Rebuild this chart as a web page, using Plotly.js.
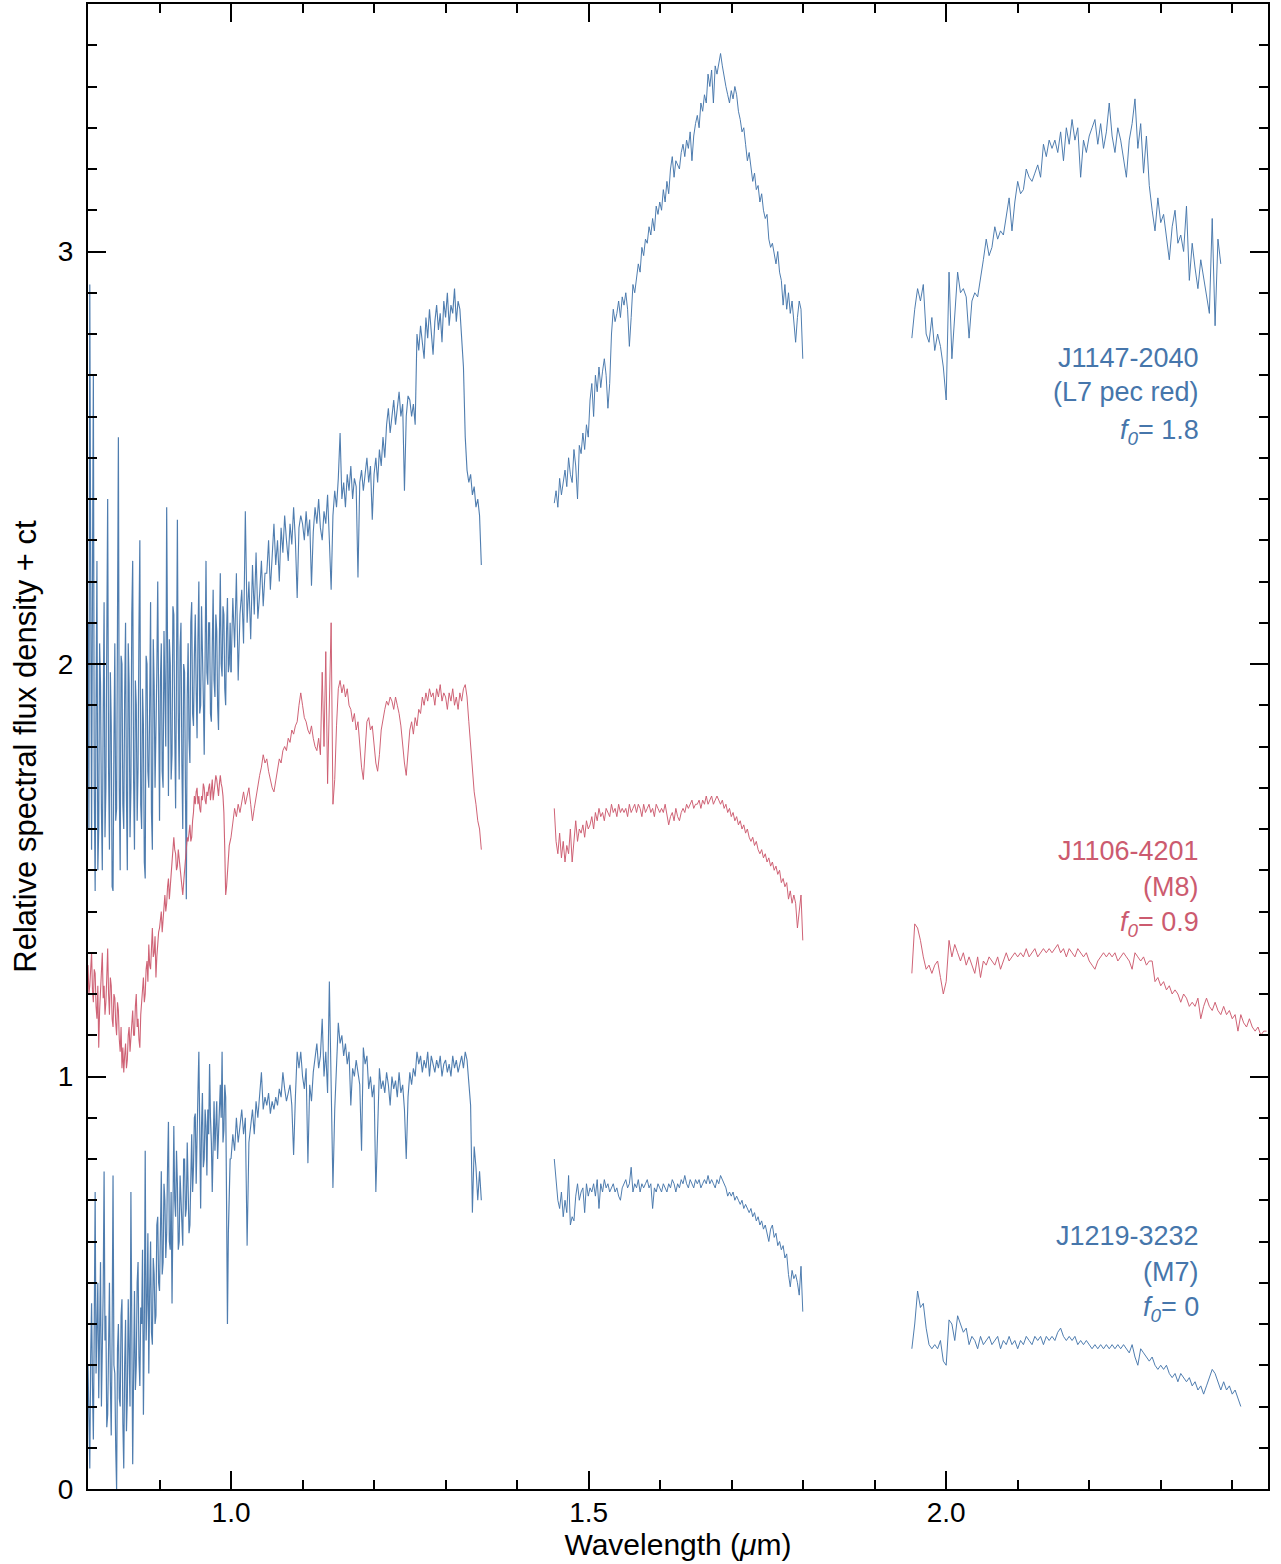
<!DOCTYPE html>
<html>
<head>
<meta charset="utf-8">
<script src="https://cdn.plot.ly/plotly-3.0.1.min.js"></script>
<style>
  html, body { margin: 0; padding: 0; background: #ffffff; }
  #chart { width: 1281px; height: 1564px; }
</style>
</head>
<body>
<div id="chart"></div>
<script>
// Wavelength sampling (micron): start and step of each spectral piece
const segAStart = 0.80,  segAStep = 0.00125;  // 0.80 - 1.00 (finer sampling)
const segBStart = 1.00,  segBStep = 0.0025;   // 1.00 - 1.35
const seg2Start = 1.452, seg2Step = 0.0025;   // 1.45 - 1.80
const seg3Start = 1.952, seg3Step = 0.004;    // 1.95 - 2.45

// J1147-2040 (L7 pec red), offset f0 = 1.8
const j1147_segA = [
  2.10, 1.60, 2.92, 2.00, 1.55, 2.20, 2.70, 1.70, 1.45, 1.90, 2.25, 1.50, 1.60, 2.05, 1.95, 1.65, 1.50, 1.88, 2.15, 1.58,
  1.70, 2.05, 2.40, 1.75, 1.55, 1.98, 1.85, 1.46, 1.45, 1.80, 2.05, 1.62, 1.65, 2.10, 2.55, 1.70, 1.50, 2.02, 2.00, 1.66,
  1.60, 1.92, 2.10, 1.68, 1.50, 2.05, 1.95, 1.58, 1.70, 2.12, 2.25, 1.72, 1.55, 1.96, 1.90, 1.62, 1.75, 2.08, 2.30, 1.66,
  1.60, 1.94, 1.85, 1.52, 1.48, 2.02, 2.00, 1.74, 1.70, 1.90, 2.15, 1.64, 1.55, 2.06, 1.95, 1.70, 1.80, 1.98, 2.20, 1.72,
  1.62, 1.96, 2.05, 1.74, 1.70, 2.08, 1.95, 1.80, 2.38, 1.90, 1.68, 2.06, 2.00, 1.72, 1.78, 2.14, 2.12, 1.84, 1.65, 1.98,
  2.35, 1.88, 1.72, 2.04, 2.10, 1.76, 1.60, 2.00, 1.98, 1.70, 1.43, 1.92, 2.05, 1.82, 1.76, 2.10, 2.15, 1.88, 1.85, 2.02,
  2.12, 1.94, 1.82, 2.06, 2.20, 1.88, 1.90, 2.14, 2.05, 1.92, 1.78, 2.02, 2.25, 1.98, 1.95, 2.10, 2.10, 1.88, 1.86, 2.04,
  2.18, 1.96, 1.92, 2.12, 2.08, 1.90, 1.84, 2.06, 2.22, 2.00, 1.97, 2.14, 2.12, 1.94, 1.90, 2.08, 2.16, 1.98, 2.00, 2.10,
  1.98
];
const j1147_segB = [
  1.98, 2.16, 2.04, 2.22, 1.96, 2.12, 2.18, 2.05, 2.37, 2.10, 2.20, 2.06, 2.24, 2.12, 2.27, 2.11, 2.17, 2.25, 2.14, 2.22,
  2.22, 2.30, 2.18, 2.28, 2.34, 2.24, 2.30, 2.20, 2.33, 2.27, 2.36, 2.30, 2.25, 2.34, 2.29, 2.38, 2.30, 2.16, 2.33, 2.36,
  2.34, 2.30, 2.37, 2.31, 2.35, 2.19, 2.32, 2.38, 2.34, 2.40, 2.33, 2.30, 2.37, 2.34, 2.41, 2.30, 2.18, 2.36, 2.42, 2.38,
  2.45, 2.56, 2.40, 2.44, 2.38, 2.46, 2.42, 2.48, 2.40, 2.45, 2.43, 2.21, 2.44, 2.47, 2.42, 2.46, 2.50, 2.44, 2.48, 2.35,
  2.46, 2.50, 2.44, 2.52, 2.48, 2.55, 2.50, 2.58, 2.62, 2.56, 2.60, 2.64, 2.58, 2.62, 2.66, 2.60, 2.63, 2.42, 2.60, 2.65,
  2.64, 2.60, 2.63, 2.58, 2.80, 2.76, 2.82, 2.78, 2.74, 2.84, 2.79, 2.86, 2.80, 2.75, 2.83, 2.87, 2.81, 2.85, 2.78, 2.88,
  2.84, 2.90, 2.82, 2.87, 2.85, 2.91, 2.83, 2.88, 2.86, 2.80, 2.72, 2.55, 2.47, 2.44, 2.46, 2.41, 2.43, 2.38, 2.40, 2.36,
  2.24
];
const j1147_seg2 = [
  2.39, 2.42, 2.38, 2.45, 2.41, 2.44, 2.47, 2.43, 2.50, 2.46, 2.44, 2.52, 2.48, 2.40, 2.53, 2.51, 2.56, 2.52, 2.58, 2.55,
  2.64, 2.68, 2.60, 2.70, 2.66, 2.72, 2.67, 2.71, 2.74, 2.70, 2.62, 2.68, 2.80, 2.86, 2.83, 2.85, 2.88, 2.84, 2.89, 2.87,
  2.90, 2.86, 2.77, 2.84, 2.92, 2.90, 2.94, 2.97, 2.95, 3.01, 2.99, 3.03, 3.02, 3.06, 3.04, 3.08, 3.05, 3.11, 3.09, 3.12,
  3.10, 3.15, 3.12, 3.17, 3.14, 3.20, 3.23, 3.18, 3.22, 3.21, 3.20, 3.24, 3.26, 3.23, 3.27, 3.25, 3.29, 3.22, 3.28, 3.31,
  3.33, 3.30, 3.36, 3.34, 3.38, 3.36, 3.43, 3.40, 3.44, 3.36, 3.45, 3.43, 3.46, 3.48, 3.45, 3.42, 3.40, 3.38, 3.36, 3.39,
  3.37, 3.40, 3.38, 3.34, 3.32, 3.29, 3.30, 3.26, 3.22, 3.24, 3.20, 3.17, 3.19, 3.15, 3.16, 3.12, 3.14, 3.10, 3.08, 3.09,
  3.03, 3.01, 3.02, 2.99, 2.97, 3.00, 2.95, 2.93, 2.87, 2.92, 2.86, 2.90, 2.85, 2.88, 2.82, 2.78, 2.84, 2.88, 2.86, 2.74
];
const j1147_seg3 = [
  2.79, 2.86, 2.91, 2.88, 2.92, 2.80, 2.78, 2.84, 2.76, 2.80, 2.77, 2.72, 2.64, 2.95, 2.74, 2.86, 2.95, 2.90, 2.91, 2.89,
  2.79, 2.88, 2.90, 2.89, 2.93, 2.98, 3.03, 2.99, 3.01, 3.06, 3.03, 3.05, 3.04, 3.08, 3.13, 3.05, 3.12, 3.17, 3.14, 3.15,
  3.20, 3.18, 3.17, 3.19, 3.21, 3.18, 3.26, 3.23, 3.27, 3.25, 3.27, 3.24, 3.29, 3.22, 3.30, 3.26, 3.32, 3.27, 3.30, 3.18,
  3.27, 3.24, 3.28, 3.30, 3.32, 3.26, 3.31, 3.25, 3.29, 3.36, 3.28, 3.24, 3.30, 3.27, 3.22, 3.18, 3.27, 3.31, 3.37, 3.25,
  3.31, 3.19, 3.28, 3.16, 3.10, 3.05, 3.13, 3.07, 3.09, 3.04, 2.98, 3.06, 3.10, 3.02, 3.04, 3.00, 3.11, 2.93, 3.02, 2.96,
  2.91, 2.98, 2.94, 2.90, 2.85, 3.08, 2.82, 3.03, 2.97
];

// J1106-4201 (M8), offset f0 = 0.9
const j1106_segA = [
  1.27, 1.20, 1.22, 1.28, 1.30, 1.21, 1.18, 1.26, 1.25, 1.17, 1.14, 1.22, 1.07, 1.16, 1.20, 1.25, 1.30, 1.19, 1.22, 1.15,
  1.18, 1.24, 1.31, 1.20, 1.15, 1.24, 1.22, 1.14, 1.12, 1.20, 1.19, 1.13, 1.10, 1.18, 1.16, 1.09, 1.06, 1.12, 1.02, 1.07,
  1.01, 1.05, 1.08, 1.02, 1.04, 1.10, 1.12, 1.06, 1.09, 1.14, 1.16, 1.10, 1.10, 1.17, 1.20, 1.12, 1.14, 1.09, 1.07, 1.15,
  1.18, 1.22, 1.24, 1.18, 1.20, 1.26, 1.28, 1.23, 1.32, 1.27, 1.26, 1.31, 1.36, 1.29, 1.30, 1.34, 1.24, 1.29, 1.33, 1.35,
  1.36, 1.39, 1.40, 1.35, 1.38, 1.42, 1.44, 1.40, 1.42, 1.46, 1.48, 1.43, 1.46, 1.50, 1.52, 1.55, 1.58, 1.55, 1.54, 1.50,
  1.51, 1.55, 1.53, 1.50, 1.48, 1.46, 1.44, 1.47, 1.50, 1.52, 1.54, 1.58, 1.57, 1.60, 1.61, 1.57, 1.58, 1.62, 1.64, 1.68,
  1.66, 1.69, 1.70, 1.66, 1.68, 1.65, 1.64, 1.68, 1.67, 1.71, 1.70, 1.67, 1.66, 1.69, 1.68, 1.70, 1.71, 1.67, 1.69, 1.72,
  1.67, 1.69, 1.70, 1.73, 1.72, 1.69, 1.68, 1.71, 1.73, 1.71, 1.70, 1.68, 1.64, 1.55, 1.44, 1.46, 1.50, 1.53, 1.56, 1.57,
  1.58
];
const j1106_segB = [
  1.58, 1.62, 1.65, 1.63, 1.66, 1.64, 1.67, 1.69, 1.66, 1.68, 1.70, 1.66, 1.62, 1.65, 1.68, 1.71, 1.73, 1.75, 1.78, 1.76,
  1.77, 1.74, 1.72, 1.70, 1.69, 1.72, 1.74, 1.77, 1.76, 1.79, 1.80, 1.79, 1.82, 1.81, 1.84, 1.83, 1.85, 1.86, 1.90, 1.93,
  1.90, 1.87, 1.86, 1.84, 1.83, 1.85, 1.82, 1.80, 1.79, 1.82, 1.78, 1.98, 1.80, 2.03, 1.71, 1.95, 2.10, 1.66, 1.72, 1.85,
  1.94, 1.96, 1.93, 1.95, 1.92, 1.94, 1.90, 1.89, 1.86, 1.88, 1.84, 1.86, 1.80, 1.75, 1.72, 1.78, 1.86, 1.87, 1.84, 1.85,
  1.80, 1.76, 1.74, 1.78, 1.84, 1.87, 1.89, 1.91, 1.90, 1.92, 1.91, 1.89, 1.92, 1.90, 1.88, 1.85, 1.80, 1.76, 1.73, 1.78,
  1.84, 1.86, 1.83, 1.87, 1.85, 1.89, 1.88, 1.92, 1.90, 1.93, 1.91, 1.94, 1.92, 1.93, 1.90, 1.94, 1.92, 1.95, 1.91, 1.93,
  1.92, 1.89, 1.93, 1.91, 1.94, 1.90, 1.92, 1.89, 1.93, 1.91, 1.94, 1.95, 1.92, 1.86, 1.80, 1.74, 1.69, 1.66, 1.62, 1.60,
  1.55
];
const j1106_seg2 = [
  1.65, 1.57, 1.54, 1.59, 1.53, 1.57, 1.52, 1.56, 1.54, 1.60, 1.52, 1.58, 1.62, 1.57, 1.60, 1.59, 1.61, 1.58, 1.62, 1.60,
  1.61, 1.63, 1.60, 1.64, 1.62, 1.65, 1.63, 1.64, 1.62, 1.65, 1.64, 1.63, 1.66, 1.64, 1.65, 1.63, 1.66, 1.64, 1.65, 1.64,
  1.65, 1.63, 1.66, 1.64, 1.65, 1.66, 1.64, 1.66, 1.65, 1.63, 1.66, 1.64, 1.65, 1.66, 1.64, 1.65, 1.63, 1.66, 1.65, 1.64,
  1.65, 1.64, 1.66, 1.63, 1.61, 1.63, 1.64, 1.62, 1.65, 1.63, 1.62, 1.64, 1.65, 1.64, 1.66, 1.65, 1.66, 1.67, 1.65, 1.66,
  1.66, 1.67, 1.65, 1.67, 1.66, 1.68, 1.66, 1.67, 1.68, 1.66, 1.67, 1.68, 1.67, 1.66, 1.67, 1.65, 1.66, 1.64, 1.65, 1.63,
  1.64, 1.62, 1.63, 1.61, 1.62, 1.60, 1.61, 1.59, 1.60, 1.58, 1.57, 1.58, 1.56, 1.57, 1.55, 1.54, 1.55, 1.53, 1.54, 1.52,
  1.53, 1.51, 1.52, 1.50, 1.51, 1.49, 1.50, 1.47, 1.48, 1.46, 1.47, 1.43, 1.45, 1.42, 1.44, 1.42, 1.36, 1.40, 1.44, 1.33
];
const j1106_seg3 = [
  1.25, 1.37, 1.36, 1.33, 1.29, 1.26, 1.27, 1.25, 1.27, 1.28, 1.24, 1.20, 1.23, 1.33, 1.29, 1.32, 1.30, 1.28, 1.30, 1.27,
  1.29, 1.27, 1.25, 1.29, 1.24, 1.28, 1.27, 1.29, 1.28, 1.27, 1.29, 1.26, 1.28, 1.30, 1.28, 1.29, 1.30, 1.29, 1.30, 1.29,
  1.31, 1.29, 1.30, 1.31, 1.29, 1.30, 1.31, 1.30, 1.31, 1.30, 1.31, 1.32, 1.30, 1.31, 1.29, 1.31, 1.30, 1.29, 1.31, 1.30,
  1.29, 1.30, 1.28, 1.27, 1.26, 1.28, 1.29, 1.30, 1.29, 1.30, 1.29, 1.30, 1.28, 1.29, 1.30, 1.29, 1.28, 1.26, 1.30, 1.29,
  1.28, 1.29, 1.27, 1.28, 1.28, 1.23, 1.24, 1.22, 1.23, 1.21, 1.22, 1.20, 1.21, 1.20, 1.18, 1.20, 1.19, 1.17, 1.18, 1.17,
  1.19, 1.14, 1.17, 1.19, 1.17, 1.16, 1.18, 1.16, 1.15, 1.17, 1.15, 1.16, 1.14, 1.15, 1.11, 1.15, 1.13, 1.12, 1.14, 1.12,
  1.11, 1.12, 1.10, 1.11, 1.11
];

// J1219-3232 (M7), offset f0 = 0
const j1219_segA = [
  0.30, 0.18, 0.05, 0.32, 0.45, 0.25, 0.12, 0.40, 0.72, 0.28, 0.38, 0.50, 0.22, 0.35, 0.55, 0.20, 0.30, 0.48, 0.77, 0.36,
  0.42, 0.15, 0.18, 0.44, 0.50, 0.26, 0.13, 0.38, 0.76, 0.30, 0.28, 0.10, 0.00, 0.34, 0.40, 0.22, 0.20, 0.42, 0.46, 0.16,
  0.05, 0.30, 0.41, 0.14, 0.22, 0.46, 0.35, 0.20, 0.72, 0.34, 0.06, 0.28, 0.48, 0.24, 0.30, 0.50, 0.55, 0.32, 0.25, 0.44,
  0.40, 0.58, 0.18, 0.40, 0.82, 0.36, 0.45, 0.62, 0.28, 0.48, 0.60, 0.38, 0.35, 0.56, 0.52, 0.40, 0.42, 0.64, 0.66, 0.50,
  0.48, 0.62, 0.77, 0.52, 0.55, 0.74, 0.70, 0.56, 0.62, 0.78, 0.89, 0.60, 0.58, 0.72, 0.45, 0.66, 0.88, 0.70, 0.66, 0.82,
  0.74, 0.58, 0.60, 0.76, 0.70, 0.64, 0.59, 0.80, 0.80, 0.66, 0.68, 0.84, 0.76, 0.62, 0.64, 0.78, 0.86, 0.72, 0.78, 0.90,
  0.91, 0.74, 0.82, 0.96, 1.06, 0.84, 0.68, 0.88, 0.96, 0.78, 0.80, 0.92, 0.88, 0.76, 0.92, 0.86, 1.03, 0.90, 0.84, 0.72,
  0.90, 0.94, 0.82, 0.88, 0.94, 0.80, 0.86, 0.96, 0.98, 0.90, 1.06, 0.84, 0.87, 0.98, 0.95, 0.70, 0.40, 0.62, 0.73, 0.80,
  0.80
];
const j1219_segB = [
  0.80, 0.86, 0.82, 0.90, 0.84, 0.88, 0.92, 0.86, 0.90, 0.59, 0.84, 0.88, 0.92, 0.86, 0.94, 0.90, 0.96, 1.01, 0.92, 0.95,
  0.93, 0.96, 0.91, 0.94, 0.92, 0.95, 0.93, 0.97, 0.95, 1.01, 0.97, 0.94, 0.96, 0.98, 0.93, 0.81, 0.95, 1.06, 1.02, 1.06,
  1.00, 0.97, 1.02, 0.79, 0.98, 0.94, 1.01, 1.04, 1.08, 1.02, 1.05, 1.14, 1.00, 1.06, 0.96, 1.23, 1.02, 0.73, 0.92, 1.05,
  1.13, 1.08, 1.10, 1.05, 1.08, 1.03, 1.06, 0.93, 1.02, 1.00, 1.04, 1.01, 0.98, 0.82, 1.07, 1.03, 1.05, 0.97, 1.00, 0.95,
  0.98, 0.72, 0.90, 1.02, 0.97, 0.99, 0.96, 1.01, 0.98, 0.93, 1.00, 0.97, 0.99, 0.95, 1.01, 0.96, 0.98, 0.92, 0.80, 0.95,
  1.01, 0.98, 1.02, 1.00, 1.06, 1.03, 1.05, 1.01, 1.04, 1.02, 1.06, 1.00, 1.05, 1.03, 1.01, 1.04, 1.02, 1.05, 1.00, 1.03,
  1.04, 1.01, 1.03, 1.00, 1.05, 1.02, 1.04, 1.01, 1.03, 1.05, 1.02, 1.06, 1.04, 0.98, 0.93, 0.67, 0.83, 0.78, 0.70, 0.77,
  0.70
];
const j1219_seg2 = [
  0.80, 0.74, 0.70, 0.68, 0.72, 0.66, 0.70, 0.67, 0.76, 0.64, 0.66, 0.65, 0.71, 0.74, 0.70, 0.72, 0.73, 0.67, 0.74, 0.71,
  0.73, 0.72, 0.74, 0.71, 0.75, 0.68, 0.74, 0.72, 0.75, 0.73, 0.74, 0.72, 0.73, 0.74, 0.72, 0.73, 0.71, 0.70, 0.73, 0.74,
  0.75, 0.73, 0.74, 0.78, 0.72, 0.74, 0.73, 0.75, 0.72, 0.74, 0.73, 0.74, 0.75, 0.73, 0.74, 0.68, 0.73, 0.72, 0.74, 0.73,
  0.72, 0.74, 0.73, 0.72, 0.74, 0.73, 0.75, 0.74, 0.72, 0.74, 0.73, 0.75, 0.74, 0.76, 0.74, 0.73, 0.75, 0.74, 0.73, 0.75,
  0.74, 0.75, 0.73, 0.74, 0.75, 0.74, 0.76, 0.74, 0.75, 0.74, 0.73, 0.75, 0.74, 0.76, 0.75, 0.74, 0.73, 0.71, 0.72, 0.71,
  0.72, 0.70, 0.71, 0.70, 0.69, 0.70, 0.68, 0.69, 0.68, 0.67, 0.68, 0.66, 0.67, 0.65, 0.66, 0.64, 0.65, 0.63, 0.64, 0.62,
  0.60, 0.63, 0.64, 0.61, 0.62, 0.59, 0.60, 0.58, 0.59, 0.56, 0.57, 0.52, 0.49, 0.53, 0.51, 0.52, 0.50, 0.47, 0.54, 0.43
];
const j1219_seg3 = [
  0.34, 0.40, 0.48, 0.44, 0.45, 0.39, 0.35, 0.34, 0.35, 0.34, 0.36, 0.31, 0.30, 0.41, 0.40, 0.36, 0.42, 0.40, 0.38, 0.39,
  0.35, 0.37, 0.36, 0.34, 0.37, 0.35, 0.36, 0.37, 0.35, 0.36, 0.37, 0.34, 0.36, 0.35, 0.37, 0.35, 0.36, 0.34, 0.36, 0.35,
  0.37, 0.36, 0.35, 0.37, 0.36, 0.37, 0.35, 0.37, 0.36, 0.37, 0.36, 0.38, 0.39, 0.37, 0.36, 0.37, 0.36, 0.37, 0.35, 0.36,
  0.35, 0.36, 0.35, 0.34, 0.35, 0.34, 0.35, 0.34, 0.35, 0.34, 0.35, 0.34, 0.35, 0.34, 0.35, 0.34, 0.33, 0.35, 0.32, 0.30,
  0.34, 0.33, 0.32, 0.31, 0.32, 0.30, 0.29, 0.30, 0.29, 0.30, 0.28, 0.27, 0.28, 0.26, 0.28, 0.27, 0.26, 0.27, 0.25, 0.26,
  0.24, 0.25, 0.23, 0.25, 0.27, 0.29, 0.28, 0.26, 0.24, 0.26, 0.24, 0.25, 0.23, 0.24, 0.22, 0.20
];

// Label text for each object
const names   = ['J1147-2040', 'J1106-4201', 'J1219-3232'];
const types   = ['(L7 pec red)', '(M8)', '(M7)'];
const offsets = ['1.8', '0.9', '0'];

const BLUE = '#4676ab';
const RED  = '#cc5b6f';
const FONT = 'Liberation Sans, Arial, Helvetica, sans-serif';

function segTrace(x0, dx, y, color, width) {
  return {
    type: 'scatter', mode: 'lines', x0: x0, dx: dx, y: y,
    line: { color: color, width: width },
    opacity: 0.95, showlegend: false, hoverinfo: 'skip'
  };
}

const traces = [
  segTrace(segAStart, segAStep, j1147_segA, BLUE, 1.2),
  segTrace(segBStart, segBStep, j1147_segB, BLUE, 1.1),
  segTrace(seg2Start, seg2Step, j1147_seg2, BLUE, 1),
  segTrace(seg3Start, seg3Step, j1147_seg3, BLUE, 1),
  segTrace(segAStart, segAStep, j1106_segA, RED, 1.1),
  segTrace(segBStart, segBStep, j1106_segB, RED, 1),
  segTrace(seg2Start, seg2Step, j1106_seg2, RED, 1),
  segTrace(seg3Start, seg3Step, j1106_seg3, RED, 1),
  segTrace(segAStart, segAStep, j1219_segA, BLUE, 1.2),
  segTrace(segBStart, segBStep, j1219_segB, BLUE, 1.1),
  segTrace(seg2Start, seg2Step, j1219_seg2, BLUE, 1),
  segTrace(seg3Start, seg3Step, j1219_seg3, BLUE, 1)
];

// Text block at the right of each spectrum: name, type, offset
const labelX = 2.356;
const labelY = [[2.743, 2.660, 2.563], [1.547, 1.460, 1.370], [0.613, 0.525, 0.437]];
const labelColors = [BLUE, RED, BLUE];
const annotations = [];
for (let k = 0; k < 3; k++) {
  const lines = [names[k], types[k], '<i>f</i><sub><i>0</i></sub>= ' + offsets[k]];
  for (let j = 0; j < 3; j++) {
    annotations.push({
      x: labelX, y: labelY[k][j], xref: 'x', yref: 'y',
      xanchor: 'right', yanchor: 'middle', showarrow: false,
      text: lines[j], font: { family: FONT, size: 27, color: labelColors[k] }
    });
  }
}

const axisCommon = {
  showgrid: false, zeroline: false,
  showline: true, linecolor: '#000', linewidth: 2, mirror: 'allticks',
  ticks: 'inside', ticklen: 18, tickwidth: 2, tickcolor: '#000',
  tickfont: { family: FONT, size: 28, color: '#000' }
};

const layout = {
  width: 1281, height: 1564,
  margin: { l: 88, r: 13, t: 4, b: 75 },
  paper_bgcolor: '#ffffff', plot_bgcolor: '#ffffff',
  font: { family: FONT, color: '#000' },
  xaxis: Object.assign({}, axisCommon, {
    range: [0.8, 2.45], tick0: 0, dtick: 0.5, tickformat: '.1f',
    ticklabelstandoff: -3,
    minor: { dtick: 0.1, ticks: 'inside', ticklen: 9, tickwidth: 2, tickcolor: '#000', showgrid: false },
    title: { text: 'Wavelength (<i>μ</i>m)', font: { family: FONT, size: 30, color: '#000' }, standoff: 1 }
  }),
  yaxis: Object.assign({}, axisCommon, {
    range: [0, 3.6], tick0: 0, dtick: 1,
    ticklabelstandoff: 7,
    minor: { dtick: 0.1, ticks: 'inside', ticklen: 9, tickwidth: 2, tickcolor: '#000', showgrid: false },
    title: { text: 'Relative spectral flux density + ct', font: { family: FONT, size: 31, color: '#000' }, standoff: 12 }
  }),
  annotations: annotations
};

Plotly.newPlot('chart', traces, layout, { displayModeBar: false, staticPlot: true });
</script>
</body>
</html>
